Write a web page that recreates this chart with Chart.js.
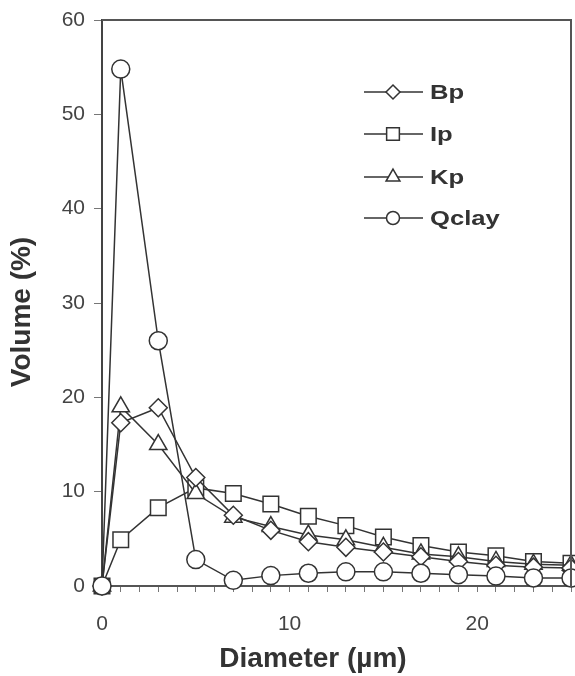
<!DOCTYPE html>
<html>
<head>
<meta charset="utf-8">
<script src="https://cdn.jsdelivr.net/npm/chart.js@4.4.0/dist/chart.umd.min.js"></script>
<style>
  html, body { margin: 0; padding: 0; background: #fff; }
  #wrap { width: 575px; height: 676px; }
</style>
</head>
<body>
<div id="wrap"><canvas id="myChart" width="575" height="676"></canvas></div>
<script>
// particle size distributions
var diameters = [0, 1, 3, 5, 7, 9, 11, 13, 15, 17, 19, 21, 23, 25];
var bp    = [0, 17.3, 18.9, 11.5, 7.5, 5.9, 4.7, 4.1, 3.6, 3.1, 2.6, 2.2, 2.0, 1.9];
var ip    = [0, 4.9, 8.3, 10.4, 9.8, 8.7, 7.4, 6.4, 5.2, 4.3, 3.6, 3.2, 2.6, 2.4];
var kp    = [0, 19.0, 15.0, 9.8, 7.3, 6.3, 5.4, 4.9, 4.1, 3.4, 3.1, 2.6, 2.3, 2.2];
var qclay = [0, 54.8, 26.0, 2.8, 0.6, 1.1, 1.35, 1.5, 1.5, 1.35, 1.2, 1.05, 0.85, 0.85];

var ink = "#333";
var font = "'Liberation Sans', Arial, sans-serif";

function points(values) {
  return values.map(function (v, i) {
    return { x: diameters[i], y: v };
  });
}

function series(label, values, style, radius, order) {
  return {
    label: label,
    data: points(values),
    order: order,
    clip: false,
    borderColor: ink,
    borderWidth: 1.5,
    backgroundColor: "#fff",
    pointStyle: style,
    pointRadius: radius,
    pointBorderColor: ink,
    pointBorderWidth: 1.5,
    pointBackgroundColor: "#fff",
    showLine: true,
    tension: 0
  };
}

// frame, axis titles and the legend
var decorations = {
  id: "decorations",
  afterDraw: function (chart) {
    var ctx = chart.ctx;
    var a = chart.chartArea;
    ctx.save();
    ctx.strokeStyle = "#555";
    ctx.lineWidth = 2;
    ctx.beginPath();
    ctx.moveTo(a.left, a.top);
    ctx.lineTo(a.right, a.top);
    ctx.lineTo(a.right, a.bottom);
    ctx.stroke();

    ctx.fillStyle = ink;
    ctx.font = "bold 28px " + font;
    ctx.textAlign = "center";
    ctx.textBaseline = "middle";
    ctx.fillText("Diameter (\u00b5m)", 313, 659);
    ctx.save();
    ctx.translate(22, 312);
    ctx.rotate(-Math.PI / 2);
    ctx.fillText("Volume (%)", 0, 0);
    ctx.restore();

    // legend
    var sizes = { rectRot: 7, rect: 9, triangle: 8, circle: 6.5 };
    var rows = [92, 134, 177, 218];
    chart.data.datasets.forEach(function (ds, i) {
      var y = rows[i];
      ctx.strokeStyle = ink;
      ctx.lineWidth = 1.5;
      ctx.beginPath();
      ctx.moveTo(364, y);
      ctx.lineTo(423, y);
      ctx.stroke();
      ctx.fillStyle = "#fff";
      Chart.helpers.drawPoint(ctx, {
        pointStyle: ds.pointStyle,
        radius: sizes[ds.pointStyle],
        rotation: 0,
        borderWidth: 1.5
      }, 393, y);
      ctx.fillStyle = ink;
      ctx.font = "bold 21px " + font;
      ctx.textAlign = "left";
      ctx.save();
      ctx.translate(430, y + 1);
      ctx.scale(1.22, 1);
      ctx.fillText(ds.label, 0, 0);
      ctx.restore();
    });
    ctx.restore();
  }
};

var ctx = document.getElementById("myChart").getContext("2d");
var chart = new Chart(ctx, {
  type: "scatter",
  data: {
    datasets: [
      series("Bp", bp, "rectRot", 9, 1),
      series("Ip", ip, "rect", 11, 3),
      series("Kp", kp, "triangle", 10, 2),
      series("Qclay", qclay, "circle", 9, 0)
    ]
  },
  options: {
    responsive: false,
    animation: false,
    layout: { autoPadding: false, padding: { top: 20, right: 4, left: 0, bottom: 0 } },
    plugins: {
      legend: { display: false },
      tooltip: { enabled: false }
    },
    scales: {
      x: {
        type: "linear",
        min: 0,
        max: 25,
        afterFit: function (scale) {
          scale.height = 90;
          scale.paddingLeft = 0;
          scale.paddingRight = 0;
        },
        border: { display: true, color: "#555", width: 2 },
        grid: { drawOnChartArea: false, tickLength: 6, tickColor: "#777", tickWidth: 1 },
        ticks: {
          stepSize: 1,
          autoSkip: false,
          maxRotation: 0,
          padding: 20,
          color: "#444",
          font: { family: font, size: 21 },
          callback: function (v) { return v % 10 === 0 ? v : ""; }
        }
      },
      y: {
        min: 0,
        max: 60,
        afterFit: function (scale) {
          scale.width = 102;
          scale.paddingTop = 0;
          scale.paddingBottom = 0;
        },
        border: { display: true, color: "#444", width: 2 },
        grid: { drawOnChartArea: false, tickLength: 8, tickColor: "#777", tickWidth: 1 },
        ticks: {
          stepSize: 10,
          padding: 9,
          color: "#444",
          font: { family: font, size: 21 }
        }
      }
    }
  },
  plugins: [decorations]
});
</script>
</body>
</html>
